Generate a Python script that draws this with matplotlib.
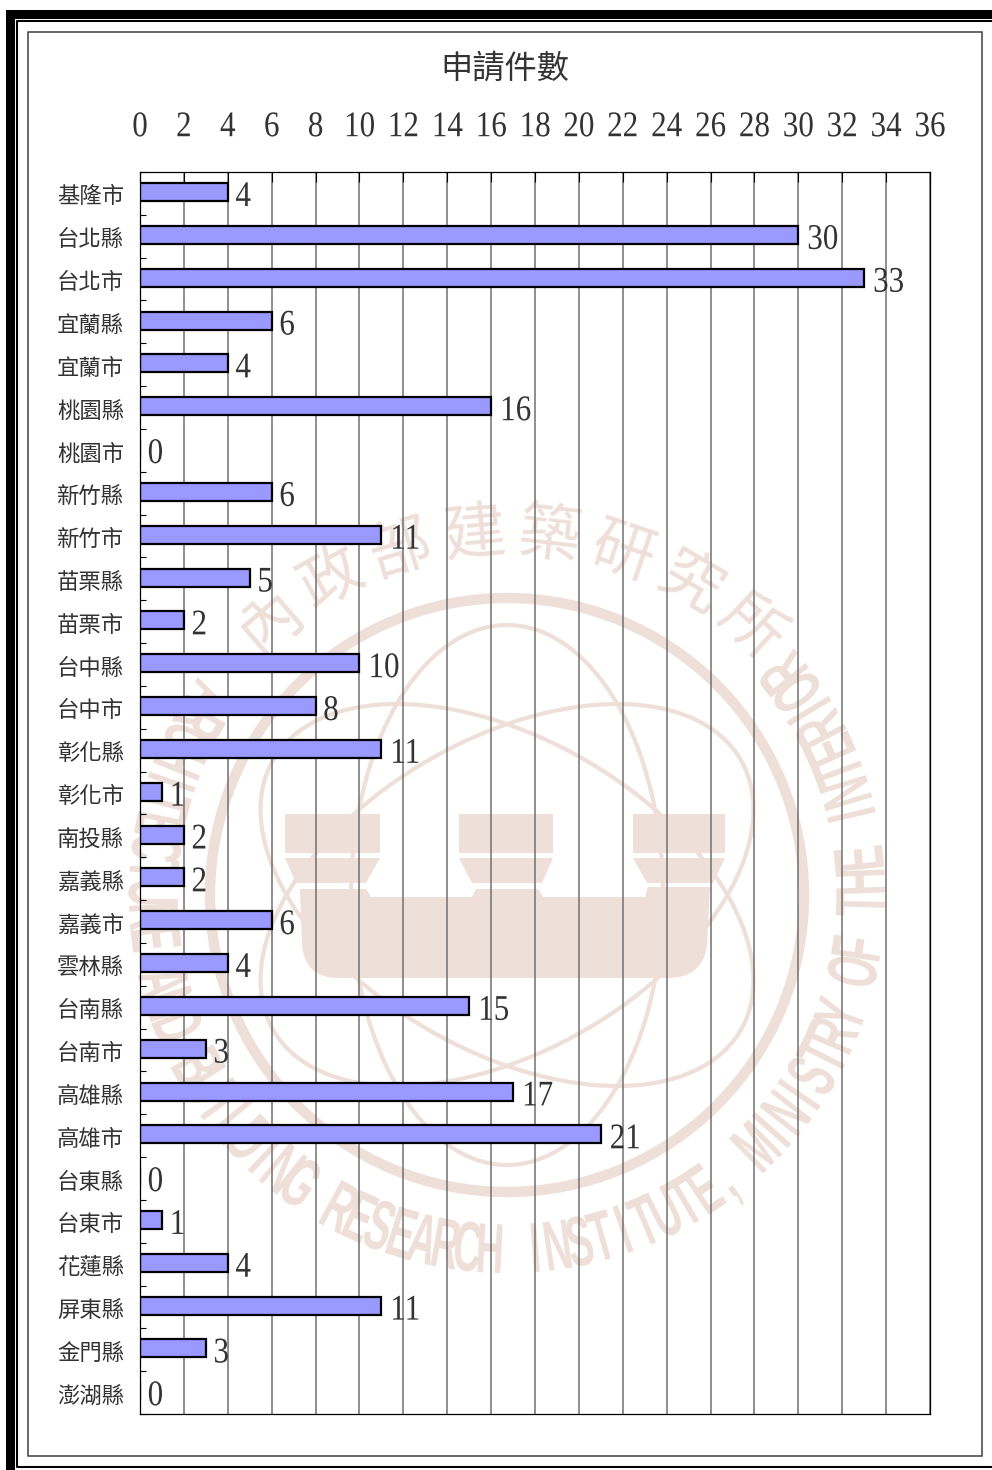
# -*- coding:utf-8 -*-
import numpy as np
import matplotlib
matplotlib.use("Agg")
import matplotlib.pyplot as plt
from matplotlib.patches import Circle, Ellipse, PathPatch, Polygon, Rectangle
from matplotlib.path import Path
from matplotlib.patheffects import AbstractPathEffect
from matplotlib.transforms import Affine2D

# data
counties = ["基隆市", "台北縣", "台北市", "宜蘭縣", "宜蘭市", "桃園縣", "桃園市", "新竹縣",
            "新竹市", "苗栗縣", "苗栗市", "台中縣", "台中市", "彰化縣", "彰化市", "南投縣",
            "嘉義縣", "嘉義市", "雲林縣", "台南縣", "台南市", "高雄縣", "高雄市", "台東縣",
            "台東市", "花蓮縣", "屏東縣", "金門縣", "澎湖縣"]
counts = [4, 30, 33, 6, 4, 16, 0, 6, 11, 5, 2, 10, 8, 11, 1, 2, 2, 6, 4, 15, 3, 17, 21, 0, 1, 4, 11, 3, 0]
x_ticks = list(range(0, 37, 2))
chart_title = "申請件數"
wm_zh = "內政部建築研究所"
wm_en = "ARCHITECTURE AND BUILDING RESEARCH INSTITUTE, MINISTRY OF THE INTERIOR"

W, H = 992, 1470
CJK = ["Noto Sans CJK TC", "DejaVu Sans"]
SERIF = "Liberation Serif"
WM = "#EEDFD9"
INK = "#333333"


class Squeeze(AbstractPathEffect):
    # narrow the glyphs around their own middle, text stays a normal Text
    def __init__(self, sx):
        self.sx = sx

    def draw_path(self, renderer, gc, tpath, affine, rgbFace=None):
        cx = tpath.get_extents().x0 + tpath.get_extents().width / 2
        t = Affine2D().translate(-cx, 0).scale(self.sx, 1).translate(cx, 0)
        renderer.draw_path(gc, tpath, t + affine, rgbFace)


fig = plt.figure(figsize=(W / 100, H / 100), dpi=100, facecolor="white")

# page layer in pixel coordinates
bg = fig.add_axes([0, 0, 1, 1], zorder=0)
bg.set_xlim(0, W)
bg.set_ylim(H, 0)
bg.axis("off")

# watermark
cx, cy = 507, 895
bg.add_patch(Circle((cx, cy), 297, fc="none", ec=WM, lw=7.5))
for ang in (30, 90, 150):
    bg.add_patch(Ellipse((cx, cy), 540, 312, angle=ang, fc="none", ec=WM, lw=3))

for x0, x1, x2, x3 in ((285, 380, 296, 366), (459, 553, 472, 542), (633, 725, 647, 713)):
    bg.add_patch(Rectangle((x0, 814), x1 - x0, 39, fc=WM, ec="none"))
    bg.add_patch(Polygon([(x0, 858), (x1, 858), (x3, 883), (x2, 883)], fc=WM, ec="none"))

basin = [(300, 889), (366, 889), (371, 897), (472, 897), (476, 889), (538, 889), (543, 897),
         (645, 897), (648, 887), (710, 887), (707, 945), (703, 978), (668, 978),
         (338, 978), (305, 978), (302, 945), (300, 889)]
codes = [Path.MOVETO] + [Path.LINETO] * 10 + [Path.CURVE3, Path.CURVE3, Path.LINETO,
                                             Path.CURVE3, Path.CURVE3, Path.LINETO]
bg.add_patch(PathPatch(Path(basin, codes), fc=WM, ec="none"))

for i, ch in enumerate(wm_zh):
    th = np.radians(130.8 - i * 11.87)
    bg.text(cx + 361 * np.cos(th), cy - 361 * np.sin(th), ch, color=WM, fontsize=45, fontweight="medium",
            family=CJK, rotation=np.degrees(th) - 90, rotation_mode="anchor", ha="center", va="center")

for i, ch in enumerate(wm_en):
    th = np.radians(146.8 + i * 3.65)
    bg.text(cx + 360 * np.cos(th), cy - 360 * np.sin(th), ch, color=WM, fontsize=51, fontweight="bold",
            family="Liberation Sans", rotation=np.degrees(th) + 90, rotation_mode="anchor",
            ha="center", va="center", path_effects=[Squeeze(0.55)])

# page border and chart frame
bg.add_patch(Rectangle((6, 10), W - 6, 9, fc="black", ec="none"))
bg.add_patch(Rectangle((6, 10), 9, H - 10, fc="black", ec="none"))
bg.plot([W, 17, 17, W], [21, 21, 1467, 1467], color="black", lw=1.5)
bg.add_patch(Rectangle((28, 32), 954, 1424, fc="none", ec="#404040", lw=1.1))

bg.text(505, 69, chart_title, family=CJK, fontsize=23.2, color=INK, ha="center", va="center")

# chart
left, right, top, bottom = 140, 930, 172, 1414
ax = fig.add_axes([left / W, 1 - bottom / H, (right - left) / W, (bottom - top) / H], zorder=1)
ax.patch.set_alpha(0)

pos = np.arange(len(counties)) + 0.5
bars = ax.barh(pos - 0.03, counts, height=0.42, color="#9999FF", edgecolor="black", linewidth=1.6)

ax.set_xlim(0, 36)
ax.set_ylim(len(counties), 0)
ax.set_axisbelow(True)
ax.xaxis.grid(True, color="#707070", lw=1.1)

ax.xaxis.tick_top()
ax.set_xticks(x_ticks)
ax.set_xticklabels([str(v) for v in x_ticks], family=SERIF, fontsize=26, color=INK,
                   path_effects=[Squeeze(0.86)])
ax.tick_params(axis="x", direction="in", length=7, width=0.8, pad=20, color="black")

ax.set_yticks(np.arange(len(counties) + 1))
ax.set_yticklabels([])
ax.set_yticks(pos + 0.025, minor=True)
ax.set_yticklabels(counties, minor=True, family=CJK, fontsize=16.1, color=INK)
ax.tick_params(axis="y", which="major", direction="in", length=4.3, width=0.8, color="black")
ax.tick_params(axis="y", which="minor", length=0, pad=11.5)

for s in ax.spines.values():
    s.set_linewidth(0.9)
    s.set_color("black")

for y, v in zip(pos, counts):
    ax.annotate(str(v), (v, y), xytext=(4.6, -3), textcoords="offset points", family=SERIF, fontsize=26,
                color=INK, ha="left", va="center", path_effects=[Squeeze(0.86)])

fig.savefig("out.png", dpi=100)
